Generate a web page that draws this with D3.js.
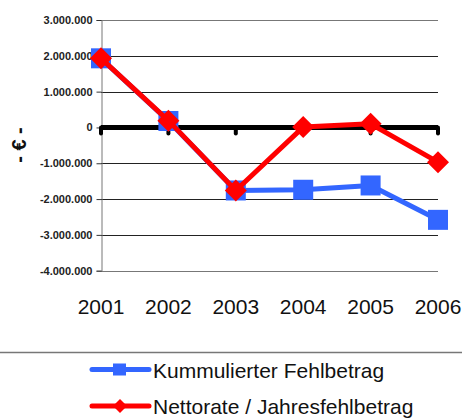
<!DOCTYPE html>
<html><head><meta charset="utf-8">
<script src="https://cdn.jsdelivr.net/npm/d3@7"></script>
<style>body{margin:0;background:#fff}svg{display:block;font-family:"Liberation Sans",Arial,sans-serif}</style>
</head><body><svg id="c" width="462" height="419"></svg>
<script>
const years = ["2001","2002","2003","2004","2005","2006"];
const kumm = [1930000, 180000, -1760000, -1740000, -1620000, -2580000];
const netto = [1930000, 190000, -1760000, 10000, 100000, -970000];
const yTicks = [3000000, 2000000, 1000000, 0, -1000000, -2000000, -3000000, -4000000];
const seriesNames = ["Kummulierter Fehlbetrag", "Nettorate / Jahresfehlbetrag"];

const svg = d3.select("#c");
const x = d3.scalePoint().domain(years).range([101, 438]);
const y = d3.scaleLinear().domain([-4000000, 3000000]).range([270.7, 20]);
const fmt = v => v === 0 ? "0" : (v < 0 ? "-" : "") + d3.format(",")(Math.abs(v)).replace(/,/g, ".");

// gridlines
svg.append("g").selectAll("line").data(yTicks.filter(d => d !== 0)).join("line")
  .attr("x1", 101).attr("x2", 438)
  .attr("y1", d => Math.round(y(d)) + 0.5).attr("y2", d => Math.round(y(d)) + 0.5)
  .attr("stroke", d => (d === 3000000 || d === -4000000) ? "#777" : "#222").attr("stroke-width", 1);

// y axis
const ya = svg.append("g").attr("transform", "translate(101.5,0)")
  .call(d3.axisLeft(y).tickValues(yTicks).tickSize(5).tickFormat(fmt));
ya.select(".domain").attr("stroke", "#777");
ya.selectAll(".tick line").attr("stroke", "#333");
ya.selectAll(".tick text").attr("font-size", 11).attr("font-weight", "bold")
  .attr("font-family", '"Liberation Sans",Arial,sans-serif').attr("fill", "#222").attr("x", -9);

// zero line with category ticks
svg.append("line").attr("x1", 101).attr("x2", 438).attr("y1", y(0)).attr("y2", y(0))
  .attr("stroke", "#000").attr("stroke-width", 5);
svg.append("g").selectAll("line").data(years).join("line")
  .attr("x1", d => x(d)).attr("x2", d => x(d)).attr("y1", y(0)).attr("y2", y(0) + 6)
  .attr("stroke", "#000").attr("stroke-width", 4).attr("stroke-linecap", "round");

// x labels
svg.append("g").selectAll("text").data(years).join("text")
  .attr("x", d => x(d)).attr("y", 314).attr("text-anchor", "middle")
  .attr("font-size", 21).attr("fill", "#111").text(d => d);

// y title
svg.append("text").attr("transform", "translate(26,145) rotate(-90)")
  .attr("text-anchor", "middle").attr("font-size", 20).attr("font-weight", "bold")
  .attr("fill", "#111").text("- € -");

const line = d3.line().x((d, i) => x(years[i])).y(d => y(d));
const blue = "#3366ff", red = "#ff0000";

// blue series
svg.append("path").datum(kumm).attr("d", line).attr("fill", "none")
  .attr("stroke", blue).attr("stroke-width", 5).attr("stroke-linejoin", "round");
svg.append("g").selectAll("rect").data(kumm).join("rect")
  .attr("x", (d, i) => x(years[i]) - 10).attr("y", d => y(d) - 10)
  .attr("width", 20).attr("height", 20).attr("fill", blue);

// red series
svg.append("path").datum(netto).attr("d", line).attr("fill", "none")
  .attr("stroke", red).attr("stroke-width", 5).attr("stroke-linejoin", "round");
const diamond = (cx, cy, r) => `M${cx},${cy - r}L${cx + r},${cy}L${cx},${cy + r}L${cx - r},${cy}Z`;
svg.append("g").selectAll("path").data(netto).join("path")
  .attr("d", (d, i) => diamond(x(years[i]), y(d), 11)).attr("fill", red);

// separator
svg.append("line").attr("x1", 0).attr("x2", 462).attr("y1", 352.5).attr("y2", 352.5)
  .attr("stroke", "#777").attr("stroke-width", 1.5);

// legend
const leg = svg.append("g");
const rows = [{name: seriesNames[0], c: blue, y: 369.5, m: "sq"}, {name: seriesNames[1], c: red, y: 406, m: "di"}];
rows.forEach(r => {
  leg.append("line").attr("x1", 92).attr("x2", 149).attr("y1", r.y).attr("y2", r.y)
    .attr("stroke", r.c).attr("stroke-width", 5).attr("stroke-linecap", "round");
  if (r.m === "sq") leg.append("rect").attr("x", 113).attr("y", r.y - 6).attr("width", 13).attr("height", 12).attr("fill", r.c);
  else leg.append("path").attr("d", diamond(120, r.y, 7)).attr("fill", r.c);
  leg.append("text").attr("x", 153).attr("y", r.y + 8).attr("font-size", 21).attr("fill", "#111").text(r.name);
});
</script></body></html>
